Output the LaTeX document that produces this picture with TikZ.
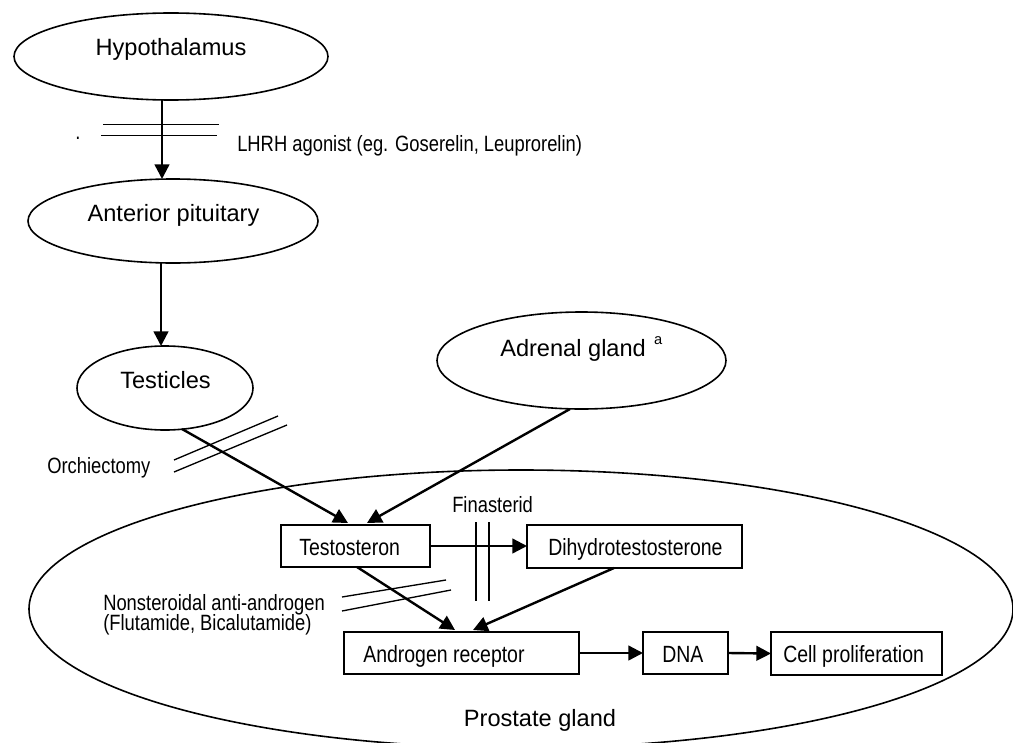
\documentclass[tikz,border=0pt]{standalone}
\usepackage{fontspec}
\setmainfont{Liberation Sans}
\newfontfamily\nfont[FakeStretch=0.83]{Liberation Sans}
\usetikzlibrary{shapes.geometric,arrows.meta,calc}
\begin{document}
\begin{tikzpicture}[x=0.75pt,y=-0.75pt,
  oval/.style={ellipse,draw,line width=1.2pt,inner sep=0pt,outer sep=0pt},
  box/.style={rectangle,draw,line width=1.5pt,inner sep=0pt,outer sep=0pt},
  biglbl/.style={font=\fontsize{17.7}{20}\selectfont,inner sep=0pt},
  boxlbl/.style={font=\nfont\fontsize{17.6}{20}\selectfont,inner sep=0pt,text height=12.3pt,text depth=0pt},
  smalllbl/.style={font=\nfont\fontsize{16.6}{19}\selectfont,inner sep=0pt,text height=11.6pt,text depth=0pt},
  arr/.style={line width=1.8pt,-{Triangle[length=11pt,width=11pt]}},
  bar/.style={line width=1pt}]
\useasboundingbox (0,0) rectangle (1013,742);
% prostate gland
\node[oval, minimum width=738pt, minimum height=208.5pt] (pros) at (521,609) {};
\node[biglbl, anchor=base] (prostxt) at (540,726) {Prostate gland};
% ellipses
\node[oval, minimum width=235.5pt, minimum height=65.25pt] (hyp) at (171,56.5) {};
\node[biglbl, anchor=base] (hyptxt) at (171,56) {Hypothalamus};
\node[oval, minimum width=217.5pt, minimum height=63pt] (ap) at (173,221) {};
\node[biglbl, anchor=base] (aptxt) at (173.5,221.5) {Anterior pituitary};
\node[oval, minimum width=132pt, minimum height=63pt] (tes) at (165,388) {};
\node[biglbl, anchor=base] (testxt) at (165.5,388) {Testicles};
\node[oval, minimum width=216.75pt, minimum height=72.75pt] (adr) at (581.5,360.5) {};
\node[biglbl, anchor=base west] (adrtxt) at (500,356) {Adrenal gland\hspace{0.35em}\raisebox{9pt}{\fontsize{11}{11}\selectfont a}};
% boxes
\node[box, minimum width=111.75pt, minimum height=31.5pt] (testo) at (355.5,546) {};
\node[boxlbl, anchor=west] (testotxt) at ($(testo.west)+(18,1)$) {Testosteron};
\node[box, minimum width=161.25pt, minimum height=32.25pt] (dht) at (634.5,546.5) {};
\node[boxlbl, anchor=west] (dhttxt) at ($(dht.west)+(21,1)$) {Dihydrotestosterone};
\node[box, minimum width=176.25pt, minimum height=31.5pt] (ar) at (461.5,653) {};
\node[boxlbl, anchor=west] (artxt) at ($(ar.west)+(19,1)$) {Androgen receptor};
\node[box, minimum width=63.75pt, minimum height=31.5pt] (dna) at (685.5,653) {};
\node[boxlbl, anchor=west] (dnatxt) at ($(dna.west)+(19,1)$) {DNA};
\node[box, minimum width=128.25pt, minimum height=32.25pt] (cell) at (856.5,653.5) {};
\node[boxlbl, anchor=west] (celltxt) at ($(cell.west)+(12,1)$) {Cell proliferation};
% side labels
\node[smalllbl, anchor=west] (lhrh) at (237,144) {LHRH agonist (eg. Goserelin, Leuprorelin)};
\node[smalllbl, anchor=base] (dot) at (78,139) {.};
\node[smalllbl, anchor=west] (orch) at (47,466) {Orchiectomy};
\node[smalllbl, anchor=west] (fin) at (452,505) {Finasterid};
\node[smalllbl, anchor=west] (nsaa1) at (103,602.5) {Nonsteroidal anti-androgen};
\node[smalllbl, anchor=west] (nsaa2) at (103,622.5) {(Flutamide, Bicalutamide)};
% arrows
\draw[arr] ($(hyp.south)+(-9,0)$) -- ($(ap.north)+(-11,0)$);
\draw[arr] ($(ap.south)+(-12,0)$) -- ($(tes.north)+(-4,0)$);
\draw[arr] ($(tes.south)+(17,-1)$) -- ($(testo.north)+(-7.5,-2)$);
\draw[arr] ($(adr.south)+(-11.5,0)$) -- ($(testo.north)+(11.5,-2)$);
\draw[arr] (testo.east) -- (testo.east -| dht.west);
\draw[arr] ($(testo.south)+(1.5,0)$) -- ($(ar.north)+(-6.5,-2)$);
\draw[arr] ($(dht.south)+(-20.5,0)$) -- ($(ar.north)+(11.5,-2)$);
\draw[arr] (ar.east) -- (dna.west);
\draw[arr] (dna.east) -- (cell.west);
% blocking bars
\draw[bar] (103,124.5) -- (219,124.5);
\draw[bar] (101,135.5) -- (217,135.5);
\draw[bar] (174,460) -- (278,416);
\draw[bar] (174,472) -- (287,425);
\draw[bar] (342,597) -- (446,580);
\draw[bar] (342,611) -- (451,590);
\draw[bar] (476,522) -- (476,601);
\draw[bar] (489,522) -- (489,601);
\end{tikzpicture}
\end{document}
